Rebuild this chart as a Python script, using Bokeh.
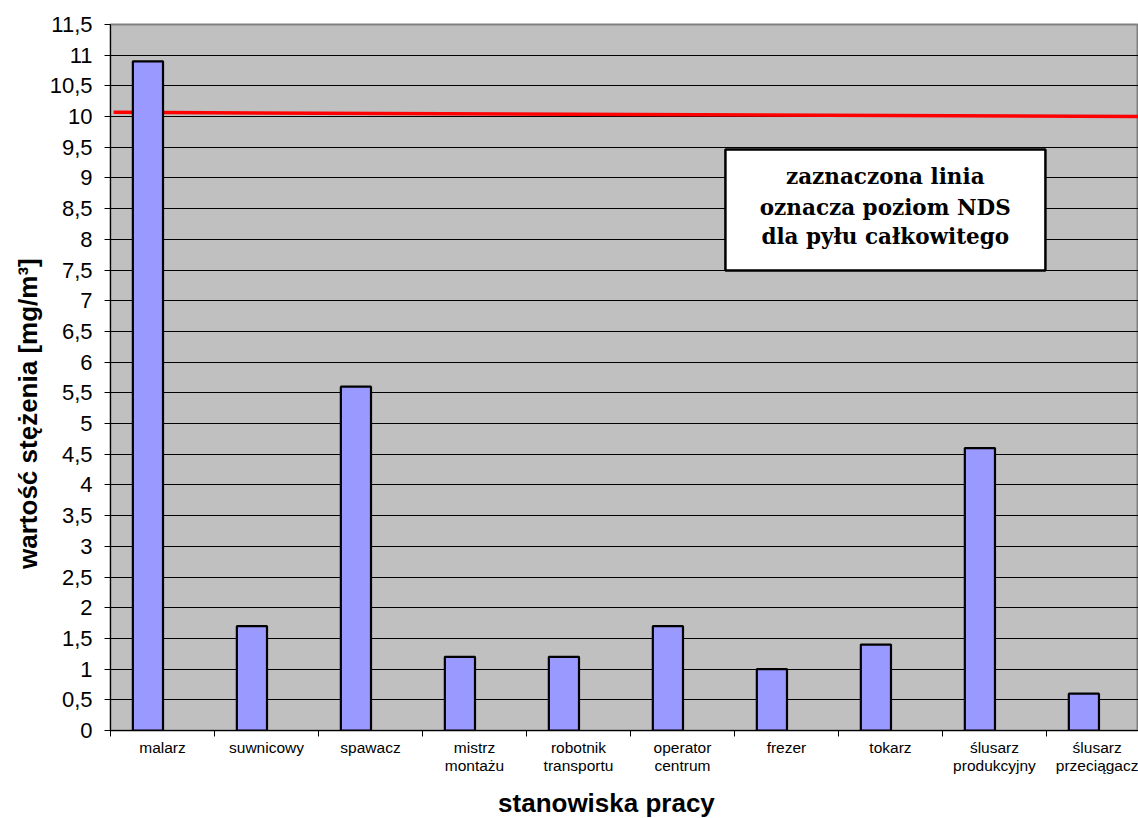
from bokeh.plotting import figure
from bokeh.models import Range1d, FixedTicker, CustomJSTickFormatter, ColumnDataSource
from bokeh.core.properties import value
from bokeh.embed import file_html
from bokeh.resources import INLINE

categories = ["malarz", "suwnicowy", "spawacz", "mistrz\nmontażu", "robotnik\ntransportu",
              "operator\ncentrum", "frezer", "tokarz", "ślusarz\nprodukcyjny", "ślusarz\nprzeciągacz"]
values = [10.9, 1.7, 5.6, 1.2, 1.2, 1.7, 1.0, 1.4, 4.6, 0.6]
nds_x = [0.03, 9.885]
nds_y = [10.07, 10.0]
y_ticks = [i * 0.5 for i in range(24)]
note_lines = ["zaznaczona linia", "oznacza poziom NDS", "dla pyłu całkowitego"]
x_title = "stanowiska pracy"
y_title = "wartość stężenia [mg/m³]"

centers = [i + 0.5 for i in range(len(categories))]
bounds = [float(i) for i in range(len(categories) + 1)]
bar_offset = -0.14  # bars sit left of the category centre (empty second series slot)
bar_x = [c + bar_offset for c in centers]
nbsp = "\u00a0"

p = figure(width=1138, height=818, output_backend="svg", toolbar_location=None,
           x_range=Range1d(0, 9.885), y_range=Range1d(0, 11.5),
           min_border_left=110, min_border_right=0, min_border_top=24, min_border_bottom=88)
p.frame_width = 1028
p.frame_height = 706

p.background_fill_color = "#C0C0C0"
p.border_fill_color = "white"
p.outline_line_color = "#808080"
p.outline_line_width = 2

# NDS line (behind bars)
p.line(nds_x, nds_y, line_color="#FF0000", line_width=3.5)

src = ColumnDataSource(dict(x=bar_x, top=values))
p.vbar(x="x", top="top", bottom=0, width=0.29, source=src,
       fill_color="#9999FF", line_color="black", line_width=2.2)

# axes
p.xgrid.visible = False
p.ygrid.ticker = FixedTicker(ticks=y_ticks)
p.ygrid.grid_line_color = "black"
p.ygrid.grid_line_width = 1

p.yaxis.ticker = FixedTicker(ticks=y_ticks)
p.yaxis.formatter = CustomJSTickFormatter(code="return tick.toString().replace('.', ',');")
p.yaxis.major_label_text_font = "Liberation Sans"
p.yaxis.major_label_text_font_size = "22px"
p.yaxis.major_label_text_color = "black"
p.yaxis.major_tick_out = 6
p.yaxis.major_tick_in = 0
p.yaxis.minor_tick_line_color = None
p.yaxis.axis_line_color = "black"
p.yaxis.major_tick_line_color = "black"
p.yaxis.major_label_standoff = 12
p.yaxis.axis_label = y_title + nbsp * 10
p.yaxis.axis_label_text_font = "Liberation Sans"
p.yaxis.axis_label_text_font_style = "bold"
p.yaxis.axis_label_text_font_size = "26px"
p.yaxis.axis_label_text_color = "black"
p.yaxis.axis_label_standoff = 4

p.xaxis.ticker = FixedTicker(ticks=centers, minor_ticks=bounds)
p.xaxis.major_label_overrides = {c: lab for c, lab in zip(centers, categories)}
p.xaxis.major_tick_line_color = None
p.xaxis.major_tick_out = 0
p.xaxis.major_tick_in = 0
p.xaxis.minor_tick_line_color = "black"
p.xaxis.minor_tick_out = 6
p.xaxis.minor_tick_in = 0
p.xaxis.axis_line_color = "black"
p.xaxis.major_label_text_font = "Liberation Sans"
p.xaxis.major_label_text_font_size = "15.5px"
p.xaxis.major_label_text_color = "black"
p.xaxis.major_label_text_line_height = 1.1
p.xaxis.major_label_standoff = 2
p.xaxis.axis_label = x_title + nbsp * 5
p.xaxis.axis_label_text_font = "Liberation Sans"
p.xaxis.axis_label_text_font_style = "bold"
p.xaxis.axis_label_text_font_size = "26px"
p.xaxis.axis_label_text_color = "black"
p.xaxis.axis_label_standoff = 11

# note box
p.quad(left=[5.913], right=[8.99], bottom=[7.493], top=[9.464],
       fill_color="white", line_color="black", line_width=2.5)
p.text(x=[7.45] * 3, y=[9.03, 8.52, 8.04], text=note_lines,
       text_font=value("DejaVu Serif"), text_font_style="bold", text_font_size="21.5px",
       text_align="center", text_baseline="middle", text_color="black")

open("out.html", "w").write(file_html(p, INLINE))
